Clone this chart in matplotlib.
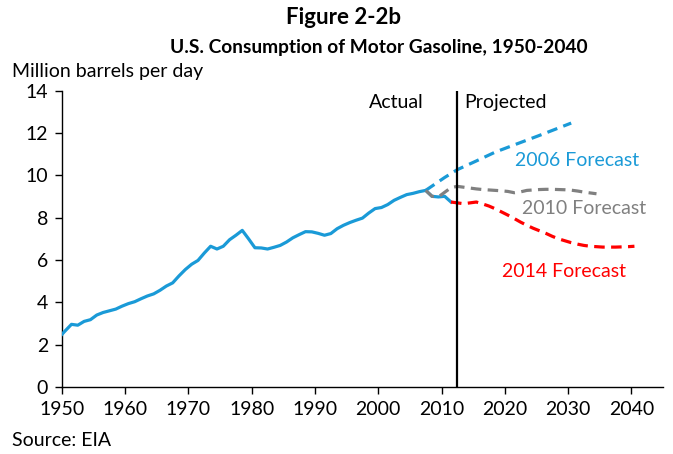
import matplotlib
matplotlib.use("Agg")
import matplotlib.pyplot as plt

plt.rcParams['font.family'] = ['Lato', 'DejaVu Sans']

# actual consumption, million barrels per day
actual_years = list(range(1949, 2012))
actual_vals = [2.33, 2.65, 2.96, 2.92, 3.10, 3.18, 3.40, 3.52, 3.60, 3.68,
               3.82, 3.94, 4.03, 4.17, 4.30, 4.40, 4.57, 4.77, 4.92, 5.25,
               5.55, 5.80, 5.98, 6.33, 6.65, 6.52, 6.65, 6.96, 7.17, 7.40,
               7.00, 6.58, 6.57, 6.52, 6.60, 6.69, 6.85, 7.05, 7.20, 7.34,
               7.33, 7.26, 7.17, 7.25, 7.48, 7.64, 7.77, 7.88, 7.98, 8.22,
               8.43, 8.48, 8.62, 8.82, 8.96, 9.09, 9.15, 9.23, 9.29, 9.01,
               8.98, 9.01, 8.74]

# 2006 forecast
f2006_years = [2007, 2010, 2012, 2015, 2018, 2021, 2025, 2030]
f2006_vals = [9.29, 9.90, 10.27, 10.68, 11.10, 11.44, 11.89, 12.47]

# 2010 forecast
f2010_years = list(range(2007, 2035))
f2010_vals = [9.29, 9.01, 8.98, 9.20, 9.42, 9.48, 9.44, 9.40, 9.36, 9.33,
              9.31, 9.29, 9.27, 9.24, 9.18, 9.22, 9.29, 9.31, 9.33, 9.34,
              9.34, 9.33, 9.32, 9.30, 9.26, 9.21, 9.17, 9.13]

# 2014 forecast
f2014_years = list(range(2011, 2041))
f2014_vals = [8.74, 8.70, 8.66, 8.70, 8.74, 8.65, 8.55, 8.42, 8.27, 8.12,
              7.96, 7.79, 7.64, 7.50, 7.38, 7.26, 7.12, 7.00, 6.91, 6.82,
              6.75, 6.69, 6.65, 6.63, 6.61, 6.61, 6.61, 6.62, 6.63, 6.65]

divider = 2012.4
blue = '#1A9AD7'
gray = '#808080'
red = '#FF0000'

def pos(years):
    # points sit mid-year between the ticks
    return [y + 0.5 for y in years]

fig = plt.figure(figsize=(6.73, 4.54), dpi=100)
ax = fig.add_axes([0.0921, 0.1476, 0.8929, 0.6526])

dash = (0, (3.3, 2.0))
ax.plot(pos(actual_years), actual_vals, color=blue, lw=2.3, zorder=3,
        solid_joinstyle='round')
ax.plot(pos(f2006_years), f2006_vals, color=blue, lw=2.3, linestyle=dash, zorder=3)
ax.plot(pos(f2010_years), f2010_vals, color=gray, lw=2.3, linestyle=dash, zorder=4)
ax.plot(pos(f2014_years), f2014_vals, color=red, lw=2.3, linestyle=dash, zorder=4)
ax.axvline(divider, color='black', lw=1.6, zorder=5)

ax.set_xlim(1950, 2045)
ax.set_ylim(0, 14)
ax.set_xticks(range(1950, 2041, 10))
ax.set_yticks(range(0, 15, 2))
for s in ['top', 'right']:
    ax.spines[s].set_visible(False)
for s in ['left', 'bottom']:
    ax.spines[s].set_linewidth(1.0)
ax.tick_params(axis='both', direction='out', length=5, width=1.0,
               labelsize=14, pad=5)

fs = 14
ax.text(divider - 5.15, 13.45, 'Actual', ha='right', va='center', fontsize=fs)
ax.text(divider + 1.2, 13.45, 'Projected', ha='left', va='center', fontsize=fs)
ax.text(2041.2, 10.71, '2006 Forecast', ha='right', va='center', fontsize=fs, color=blue)
ax.text(2042.4, 8.44, '2010 Forecast', ha='right', va='center', fontsize=fs, color=gray)
ax.text(2039.1, 5.46, '2014 Forecast', ha='right', va='center', fontsize=fs, color=red)

fig.text(343 / 673, 1 - 18 / 454, 'Figure 2-2b', ha='center', va='center',
         fontsize=16, fontweight='bold')
fig.text(379 / 673, 1 - 47 / 454, 'U.S. Consumption of Motor Gasoline, 1950-2040',
         ha='center', va='center', fontsize=13.8, fontweight='bold')
fig.text(12 / 673, 1 - 72 / 454, 'Million barrels per day', ha='left', va='center',
         fontsize=fs)
fig.text(12 / 673, 1 - 440 / 454, 'Source: EIA', ha='left', va='center', fontsize=fs)

fig.savefig('out.png', dpi=100)
